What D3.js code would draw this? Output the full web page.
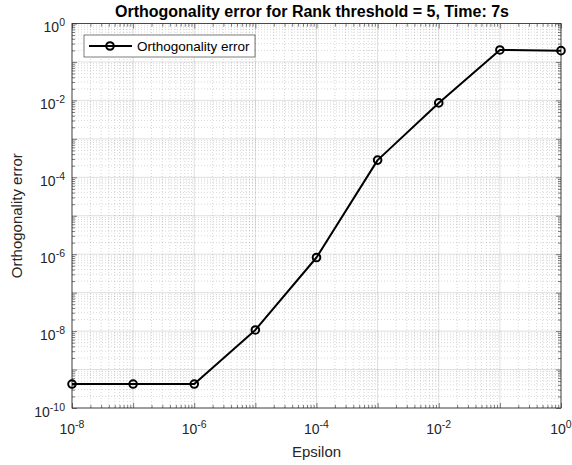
<!DOCTYPE html>
<html>
<head>
<meta charset="utf-8">
<script src="https://cdn.jsdelivr.net/npm/d3@7"></script>
<style>
  body { margin: 0; background: #fff; }
  svg { display: block; font-family: "Liberation Sans", Arial, sans-serif; }
</style>
</head>
<body>
<svg id="chart"></svg>
<script>
// Values.
let epsilon = [1e-8, 1e-7, 1e-6, 1e-5, 1e-4, 1e-3, 1e-2, 1e-1, 1e0];
let orthError = [4.2e-10, 4.2e-10, 4.2e-10, 1.07e-8, 8.2e-7, 2.8e-4, 8.6e-3, 0.205, 0.197];
let xTickExps = [-8, -6, -4, -2, 0];
let yTickExps = [-10, -8, -6, -4, -2, 0];
let titleText = "Orthogonality error for Rank threshold = 5, Time: 7s";
let seriesName = "Orthogonality error";

let svgWidth = 572;
let svgHeight = 465;
let margin = {top: 23.5, bottom: 57, left: 72, right: 11};
let axisColor = "#262626";

let svg = d3.select("#chart")
    .attr("width", svgWidth)
    .attr("height", svgHeight);

let xScale = d3.scaleLog()
    .domain([1e-8, 1])
    .range([margin.left, svgWidth - margin.right]);
let yScale = d3.scaleLog()
    .domain([1e-10, 1])
    .range([svgHeight - margin.bottom, margin.top]);

let [x0, x1] = xScale.range();
let [y0, y1] = yScale.range();

// Minor values: 2..9 times each decade.
function minorValues(lo, hi) {
    let out = [];
    for (let e = lo; e < hi; e++) {
        for (let k = 2; k <= 9; k++) out.push(k * Math.pow(10, e));
    }
    return out;
}
let xMinor = minorValues(-8, 0);
let yMinor = minorValues(-10, 0);
let xMajor = d3.range(-8, 1).map(e => Math.pow(10, e));
let yMajor = d3.range(-10, 1).map(e => Math.pow(10, e));

// Grid lines.
let grid = svg.append("g").attr("class", "grid");
grid.selectAll(".xminor").data(xMinor).join("line")
    .attr("x1", d => xScale(d)).attr("x2", d => xScale(d))
    .attr("y1", y0).attr("y2", y1)
    .attr("stroke", axisColor).attr("stroke-opacity", 0.3)
    .attr("stroke-width", 0.6).attr("stroke-dasharray", "1,2");
grid.selectAll(".yminor").data(yMinor).join("line")
    .attr("x1", x0).attr("x2", x1)
    .attr("y1", d => yScale(d)).attr("y2", d => yScale(d))
    .attr("stroke", axisColor).attr("stroke-opacity", 0.3)
    .attr("stroke-width", 0.6).attr("stroke-dasharray", "1,2");
grid.selectAll(".xmajor").data(xMajor).join("line")
    .attr("x1", d => xScale(d)).attr("x2", d => xScale(d))
    .attr("y1", y0).attr("y2", y1)
    .attr("stroke", axisColor).attr("stroke-opacity", 0.15);
grid.selectAll(".ymajor").data(yMajor).join("line")
    .attr("x1", x0).attr("x2", x1)
    .attr("y1", d => yScale(d)).attr("y2", d => yScale(d))
    .attr("stroke", axisColor).attr("stroke-opacity", 0.15);

// Ticks on all four sides, pointing inward.
function tickAxis(axisFn, scale, values, size, transform) {
    svg.append("g")
        .attr("transform", transform)
        .call(axisFn(scale).tickValues(values).tickSize(size).tickSizeOuter(0).tickFormat(""))
        .call(g => g.select(".domain").remove())
        .call(g => g.selectAll("line").attr("stroke", axisColor).attr("stroke-width", 0.6));
}
tickAxis(d3.axisBottom, xScale, xMajor, -5, `translate(0,${y0})`);
tickAxis(d3.axisBottom, xScale, xMinor, -3, `translate(0,${y0})`);
tickAxis(d3.axisTop, xScale, xMajor, -5, `translate(0,${y1})`);
tickAxis(d3.axisTop, xScale, xMinor, -3, `translate(0,${y1})`);
tickAxis(d3.axisLeft, yScale, yMajor, -5, `translate(${x0},0)`);
tickAxis(d3.axisLeft, yScale, yMinor, -3, `translate(${x0},0)`);
tickAxis(d3.axisRight, yScale, yMajor, -5, `translate(${x1},0)`);
tickAxis(d3.axisRight, yScale, yMinor, -3, `translate(${x1},0)`);

// Box.
svg.append("rect")
    .attr("x", x0).attr("y", y1)
    .attr("width", x1 - x0).attr("height", y0 - y1)
    .attr("fill", "none").attr("stroke", axisColor).attr("stroke-width", 0.8);

// Tick labels as 10 with superscript exponents.
function powerLabel(sel, e) {
    sel.append("tspan").text("10");
    sel.append("tspan").attr("dy", "-0.55em").attr("font-size", "10.5px").text(e);
}
svg.append("g").selectAll("text").data(xTickExps).join("text")
    .attr("x", d => xScale(Math.pow(10, d)))
    .attr("y", y0 + 25.5)
    .attr("text-anchor", "middle")
    .attr("font-size", "14px")
    .attr("fill", axisColor)
    .each(function(d) { powerLabel(d3.select(this), d); });
svg.append("g").selectAll("text").data(yTickExps).join("text")
    .attr("x", x0 - 7)
    .attr("y", d => yScale(Math.pow(10, d)) + 8.5)
    .attr("text-anchor", "end")
    .attr("font-size", "14px")
    .attr("fill", axisColor)
    .each(function(d) { powerLabel(d3.select(this), d); });

// Axis labels and title.
svg.append("text")
    .attr("x", (x0 + x1) / 2).attr("y", 457)
    .attr("text-anchor", "middle").attr("font-size", "15px")
    .attr("fill", axisColor).text("Epsilon");
svg.append("text")
    .attr("transform", `translate(21.5,${(y0 + y1) / 2}) rotate(-90)`)
    .attr("text-anchor", "middle").attr("font-size", "15px")
    .attr("fill", axisColor).text(seriesName);
svg.append("text")
    .attr("x", 312).attr("y", 17)
    .attr("text-anchor", "middle").attr("font-size", "16px")
    .attr("font-weight", "bold").attr("fill", "#000").text(titleText);

// Series line with open circle markers.
let line = d3.line()
    .x((d, i) => xScale(epsilon[i]))
    .y(d => yScale(d));
svg.append("path")
    .datum(orthError)
    .attr("d", line)
    .attr("fill", "none").attr("stroke", "#000")
    .attr("stroke-width", 2).attr("stroke-linejoin", "round");
svg.append("g").selectAll("circle").data(orthError).join("circle")
    .attr("cx", (d, i) => xScale(epsilon[i]))
    .attr("cy", d => yScale(d))
    .attr("r", 3.8)
    .attr("fill", "none").attr("stroke", "#000").attr("stroke-width", 2);

// Legend.
let legend = svg.append("g").attr("transform", "translate(84,35)");
legend.append("rect")
    .attr("width", 171).attr("height", 22)
    .attr("fill", "#fff").attr("stroke", axisColor).attr("stroke-width", 0.6);
legend.append("line")
    .attr("x1", 5).attr("x2", 48).attr("y1", 11).attr("y2", 11)
    .attr("stroke", "#000").attr("stroke-width", 2);
legend.append("circle")
    .attr("cx", 26).attr("cy", 11).attr("r", 3.8)
    .attr("fill", "none").attr("stroke", "#000").attr("stroke-width", 2);
legend.append("text")
    .attr("x", 53).attr("y", 16)
    .attr("font-size", "13.5px").attr("fill", "#000")
    .text(seriesName);
</script>
</body>
</html>
